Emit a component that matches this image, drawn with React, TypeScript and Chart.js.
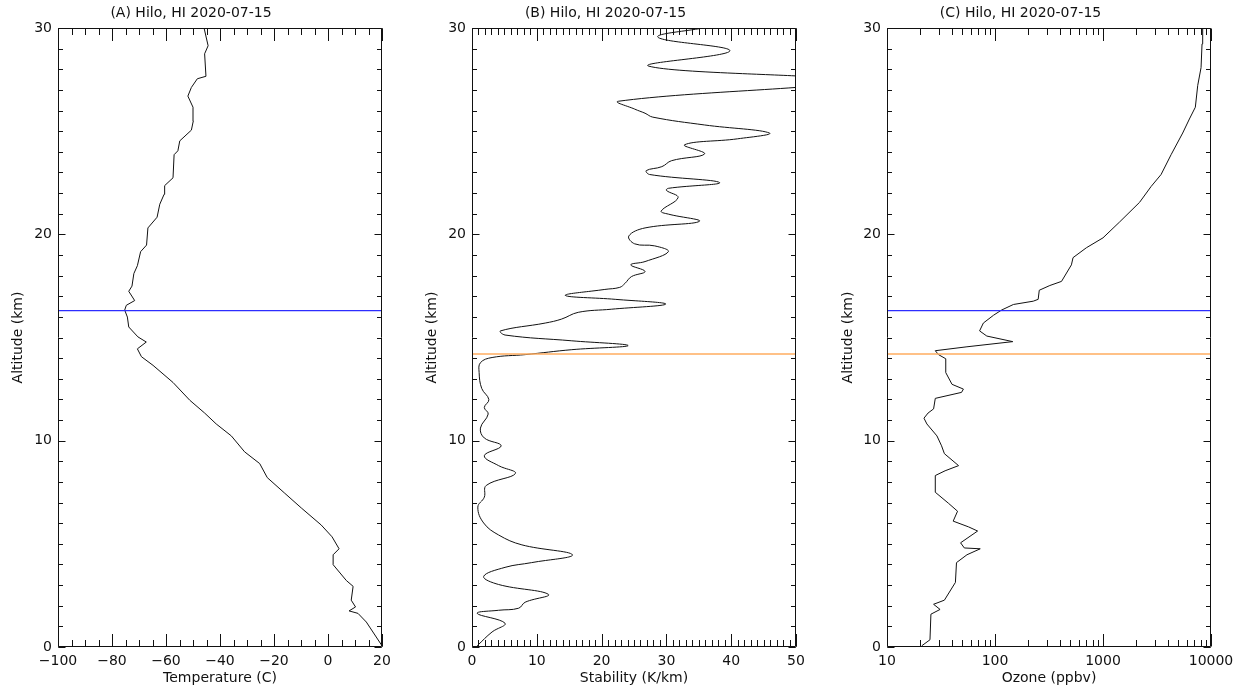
import React, { useEffect, useRef } from "react";
import { Chart, registerables } from "chart.js";

Chart.register(...registerables);

const FONT = "DejaVu Sans";
const TITLE = "Hilo, HI 2020-07-15";
const ALT_LABEL = "Altitude (km)";

// Altitude axis (km)
const altTicks = [0, 10, 20, 30];
const altMinorStep = 1;

// Tropopause markers (km)
const thermalTropopause = 16.3; // blue
const ozoneTropopause = 14.2; // orange

// (A) Temperature profile
const tempAlt = [
  0.06, 1.21, 1.63, 1.75, 1.94, 2.27, 2.94, 3.22, 3.99, 4.47, 4.76, 5.34, 5.91, 6.74, 7.45, 8.21,
  8.89, 9.46, 10.23, 10.81, 11.34, 11.96, 12.82, 13.65, 14.07, 14.45, 14.78, 15.03, 15.51, 15.99,
  16.33, 16.56, 16.79, 17.24, 17.49, 18.1, 18.48, 19.16, 19.48, 20.31, 20.83, 21.46, 21.94, 22.36,
  22.74, 23.86, 24.05, 24.53, 25.05, 25.49, 26.16, 26.7, 27.12, 27.54, 27.66, 28.75, 29.14, 30,
];
const tempVal = [
  20, 14.2, 11.1, 7.8, 10.2, 8.6, 9.3, 6.8, 1.9, 1.9, 4.1, 1.5, -2.5, -9.9, -16.0, -22.5,
  -25.3, -30.9, -35.8, -41.4, -45.7, -51.2, -57.4, -64.8, -69.1, -70.6, -67.3, -70.4, -73.8, -74.3,
  -75.3, -74.7, -71.6, -73.8, -72.6, -71.9, -70.6, -69.4, -67.2, -66.7, -63.3, -62.3, -60.7, -60.5,
  -57.4, -57.0, -55.6, -54.9, -50.6, -49.9, -50.0, -51.9, -50.6, -48.4, -45.2, -45.7, -44.4, -45.9,
];
const tempTicks = [-100, -80, -60, -40, -20, 0, 20];
const tempMinorStep = 5;

// (B) Stability profile
const stabAlt = [
  0.06, 0.73, 1.15, 1.63, 1.78, 1.88, 2.17, 2.55, 3.03, 3.42, 3.86, 4.09, 4.47, 4.95, 5.43, 6.01,
  6.78, 7.26, 7.83, 8.41, 8.79, 9.27, 9.75, 10.13, 10.61, 11.29, 11.61, 11.99, 12.53, 13.3, 13.78,
  14.03, 14.17, 14.41, 14.61, 14.84, 15.12, 15.32, 15.7, 15.89, 16.22, 16.37, 16.62, 16.85, 17.04,
  17.33, 17.43, 17.62, 17.95, 18.2, 18.52, 18.68, 19.16, 19.44, 19.54, 19.92, 20.31, 20.63, 20.98,
  21.13, 21.78, 22.13, 22.23, 22.51, 22.9, 23.09, 23.28, 23.57, 23.9, 24.34, 24.63, 24.91, 25.3,
  25.68, 25.87, 26.07, 26.45, 27.43, 28.15, 28.89, 29.55, 30.0, 30.2,
];
const stabVal = [
  0.8, 3.1, 5.1, 0.8, 4.1, 7.2, 8.2, 11.8, 4.1, 1.8, 5.1, 9.2, 15.5, 7.7, 4.1, 1.8,
  0.9, 1.9, 2.2, 6.7, 4.1, 1.9, 4.5, 1.9, 1.3, 2.5, 1.9, 2.6, 1.5, 1.1, 1.3,
  3.1, 8.2, 15.4, 24.1, 15.4, 5.1, 4.4, 11.3, 13.8, 16.4, 21.5, 29.9, 22.1, 14.4,
  20.5, 22.8, 23.6, 24.6, 26.7, 24.5, 26.7, 30.3, 28.2, 25.1, 24.2, 26.7, 35.1, 30.3,
  29.2, 31.8, 30.0, 30.3, 38.2, 27.4, 26.9, 29.3, 30.8, 35.9, 32.8, 41.0, 45.9, 35.9,
  27.9, 26.7, 25.1, 22.6, 57.0, 27.3, 39.8, 28.7, 35.7, 40.0,
];
const stabTicks = [0, 10, 20, 30, 40, 50];
const stabMinorStep = 1;

// (C) Ozone profile
const ozoneAlt = [
  0.06, 0.35, 1.59, 1.82, 2.07, 2.27, 3.13, 4.09, 4.47, 4.76, 4.8, 5.05, 5.62, 5.82, 6.1, 6.58,
  6.97, 7.5, 8.31, 8.54, 8.79, 9.37, 9.75, 10.23, 10.81, 11.09, 11.34, 11.54, 12.05, 12.34, 12.5,
  12.73, 13.3, 13.97, 14.17, 14.36, 14.55, 14.8, 15.07, 15.32, 15.7, 16.08, 16.33, 16.6, 16.76,
  16.85, 17.29, 17.52, 17.72, 18.52, 18.87, 19.35, 19.83, 20.6, 21.55, 22.32, 22.9, 23.86, 24.91,
  25.59, 26.16, 27.22, 28.08, 29.23, 30,
];
const ozoneVal = [
  21, 25, 25.5, 31, 27, 34, 43, 44, 55, 73, 52, 48, 69, 57, 41, 45,
  37, 28, 28, 34.5, 46, 34, 32, 29, 23.4, 22, 24, 27, 28, 49, 51,
  40, 35, 35, 30, 28, 55, 146, 84, 72, 78, 97, 115, 148, 226,
  251, 257, 322, 413, 510, 528, 702, 1000, 1425, 2180, 2790, 3450, 4270, 5470,
  6310, 7160, 7535, 8090, 8260, 8375,
];
const ozoneTicks = [10, 100, 1000, 10000];

const BLUE = "rgb(45,45,255)";
const ORANGE = "rgb(255,172,95)";

type PanelCfg = {
  letter: string;
  left: number;
  width: number;
  yWidth: number;
  padRight: number;
  yTitlePad: number;
  xLabel: string;
  xType: "linear" | "logarithmic";
  xMin: number;
  xMax: number;
  xMajor: number[];
  xMinor: number[];
  alt: number[];
  val: number[];
  tension: number;
  hlines: { y: number; color: string }[];
};

function linearMinor(min: number, max: number, step: number) {
  const out: number[] = [];
  for (let v = min; v <= max + 1e-9; v += step) out.push(v);
  return out;
}
function logMinor(major: number[]) {
  const out: number[] = [];
  for (let i = 0; i < major.length - 1; i++) {
    for (let k = 2; k <= 9; k++) out.push(major[i] * k);
  }
  return out;
}

const panels: PanelCfg[] = [
  {
    letter: "A", left: 0, width: 415, yWidth: 58, padRight: 33, yTitlePad: 10,
    xLabel: "Temperature (C)", xType: "linear", xMin: -100, xMax: 20,
    xMajor: tempTicks, xMinor: linearMinor(-100, 20, tempMinorStep),
    alt: tempAlt, val: tempVal, tension: 0,
    hlines: [{ y: thermalTropopause, color: BLUE }],
  },
  {
    letter: "B", left: 415, width: 415, yWidth: 57, padRight: 34, yTitlePad: 8.6,
    xLabel: "Stability (K/km)", xType: "linear", xMin: 0, xMax: 50,
    xMajor: stabTicks, xMinor: linearMinor(0, 50, stabMinorStep),
    alt: stabAlt, val: stabVal, tension: 0.4,
    hlines: [{ y: ozoneTropopause, color: ORANGE }],
  },
  {
    letter: "C", left: 830, width: 417, yWidth: 57, padRight: 36, yTitlePad: 9.6,
    xLabel: "Ozone (ppbv)", xType: "logarithmic", xMin: 10, xMax: 10000,
    xMajor: ozoneTicks, xMinor: logMinor(ozoneTicks),
    alt: ozoneAlt, val: ozoneVal, tension: 0,
    hlines: [
      { y: thermalTropopause, color: BLUE },
      { y: ozoneTropopause, color: ORANGE },
    ],
  },
];

const fmt = (v: number) => (v < 0 ? "\u2212" + Math.abs(v) : String(v));

function Panel({ cfg }: { cfg: PanelCfg }) {
  const ref = useRef<HTMLCanvasElement | null>(null);
  useEffect(() => {
    const font = { family: FONT, size: 14, weight: "normal" as const };
    const yMinor = linearMinor(altTicks[0], altTicks[altTicks.length - 1], altMinorStep);
    const frameTicks = {
      id: "frameTicks",
      afterDraw(chart: any) {
        const { ctx, chartArea: a, scales } = chart;
        const xs = scales.x, ys = scales.y;
        const px = (v: number) => Math.round(v) + 0.5;
        const L = px(a.left), R = px(a.right - 1), T = px(a.top), B = px(a.bottom - 1);
        ctx.save();
        ctx.strokeStyle = "#111";
        ctx.lineWidth = 1;
        ctx.beginPath();
        ctx.rect(L, T, R - L, B - T);
        const xt = (vals: number[], len: number) => {
          vals.forEach((v) => {
            const x = px(xs.getPixelForValue(v));
            ctx.moveTo(x, B); ctx.lineTo(x, B - len);
            ctx.moveTo(x, T); ctx.lineTo(x, T + len);
          });
        };
        const yt = (vals: number[], len: number) => {
          vals.forEach((v) => {
            const y = px(ys.getPixelForValue(v));
            ctx.moveTo(L, y); ctx.lineTo(L + len, y);
            ctx.moveTo(R, y); ctx.lineTo(R - len, y);
          });
        };
        xt(cfg.xMinor, 6.5);
        xt(cfg.xMajor, 12.5);
        yt(yMinor, 4.5);
        yt(altTicks, 7);
        ctx.stroke();
        ctx.restore();
      },
    };

    const lineSets = cfg.hlines.map((h) => ({
      data: [
        { x: cfg.xMin, y: h.y },
        { x: cfg.xMax, y: h.y },
      ],
      borderColor: h.color,
      borderWidth: 1.3,
      pointRadius: 0,
      tension: 0,
    }));
    const profile = {
      data: cfg.alt.map((a, i) => ({ x: cfg.val[i], y: a })),
      borderColor: "#111",
      borderWidth: 1,
      pointRadius: 0,
      tension: cfg.tension,
    };

    const noGrid = { display: false, drawTicks: false, tickLength: 0, drawOnChartArea: false };

    const chart = new Chart(ref.current as HTMLCanvasElement, {
      type: "line",
      data: { datasets: [...lineSets, profile] as any },
      options: {
        animation: false,
        responsive: false,
        devicePixelRatio: 1,
        events: [],
        layout: { padding: { left: 0, right: cfg.padRight, top: 0, bottom: 0 } },
        plugins: {
          legend: { display: false },
          tooltip: { enabled: false },
          title: {
            display: true,
            text: `(${cfg.letter}) ${TITLE}`,
            font,
            color: "#111",
            padding: { top: 4.6, bottom: 6.6 },
          },
        },
        scales: {
          x: {
            type: cfg.xType,
            min: cfg.xMin,
            max: cfg.xMax,
            afterFit: (s: any) => { s.height = 43; },
            afterBuildTicks: (s: any) => { s.ticks = cfg.xMajor.map((v) => ({ value: v })); },
            grid: noGrid,
            border: { display: false },
            ticks: {
              font, color: "#111", padding: 6, maxRotation: 0, minRotation: 0, autoSkip: false,
              callback: (v: any) => fmt(Number(v)),
            },
            title: { display: true, text: cfg.xLabel, font, color: "#111", padding: { top: 0, bottom: 3 } },
          } as any,
          y: {
            type: "linear",
            min: altTicks[0],
            max: altTicks[altTicks.length - 1],
            afterFit: (s: any) => { s.width = cfg.yWidth; },
            afterBuildTicks: (s: any) => { s.ticks = altTicks.map((v) => ({ value: v })); },
            grid: noGrid,
            border: { display: false },
            ticks: { font, color: "#111", padding: 6, callback: (v: any) => fmt(Number(v)) },
            title: { display: true, text: ALT_LABEL, font, color: "#111", padding: { top: cfg.yTitlePad, bottom: 0 } },
          } as any,
        },
      },
      plugins: [frameTicks],
    });
    return () => chart.destroy();
  }, [cfg]);
  return (
    <canvas
      ref={ref}
      width={cfg.width}
      height={690}
      style={{ position: "absolute", left: cfg.left, top: 0, width: cfg.width, height: 690, display: "block" }}
    />
  );
}

export default function App() {
  return (
    <div style={{ position: "absolute", left: 0, top: 0, width: 1247, height: 690, background: "#fff", overflow: "hidden" }}>
      {panels.map((p) => (
        <Panel key={p.letter} cfg={p} />
      ))}
    </div>
  );
}
